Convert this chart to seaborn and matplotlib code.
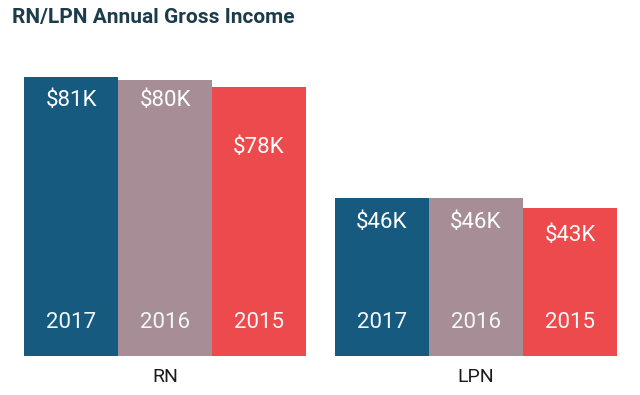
import numpy as np
import pandas as pd
import matplotlib
matplotlib.use('Agg')
import matplotlib.pyplot as plt
import seaborn as sns

sns.set_style('white')
plt.rcParams['font.family'] = ['Roboto', 'DejaVu Sans']

# data
groups = ['RN', 'LPN']
years = ['2017', '2016', '2015']
rn_income = [81, 80, 78]
lpn_income = [46, 46, 43]

colors = ['#175a80', '#a68d96', '#ec4a4c']
# how far (px) below the bar top each value label sits, as in the original
label_drop = {'RN': [23, 20, 60], 'LPN': [25, 25, 28]}

df = pd.DataFrame({
    'Group': np.repeat(groups, len(years)),
    'Year': years * len(groups),
    'Income': rn_income + lpn_income,
})

fig = plt.figure(figsize=(6.4, 3.95), dpi=100)
ax = fig.add_axes([24/640, 39/395, 593/640, 344.4/395])

w = 0.907
sns.barplot(data=df, x='Group', y='Income', hue='Year', order=groups,
            hue_order=years, palette=colors, width=w, saturation=1,
            linewidth=0, ax=ax, legend=False)

ax.set_xlim(-w/2, 1 + w/2)
ax.set_ylim(0, 100)
ax.set_yticks([])
ax.set_xlabel('')
ax.set_ylabel('')
for s in ax.spines.values():
    s.set_visible(False)
ax.tick_params(axis='x', length=0, pad=9, labelsize=14, labelcolor='#1a1a1a')

for i, cont in enumerate(ax.containers):
    for j, bar in enumerate(cont):
        xc = bar.get_x() + bar.get_width()/2
        h = bar.get_height()
        ax.annotate('${}K'.format(int(h)), (xc, h), xytext=(0, -label_drop[groups[j]][i]),
                    textcoords='offset pixels', ha='center', va='center',
                    color='white', fontsize=16)
        ax.annotate(years[i], (xc, 0), xytext=(0, 34), textcoords='offset pixels',
                    ha='center', va='center', color='#f2f8f8', fontsize=16)

fig.text(12/640, 1 - 17/395, 'RN/LPN Annual Gross Income', ha='left', va='center',
         fontsize=15, fontweight='bold', color='#1d3c4b')

fig.savefig('out.png', dpi=100)
